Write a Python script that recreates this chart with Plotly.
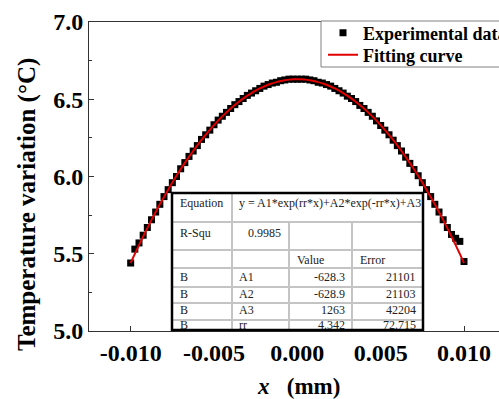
import numpy as np
import plotly.graph_objects as go

# ---------------- data ----------------
x_vals = np.linspace(-0.010, 0.010, 81)

fit_half = [6.630, 6.629, 6.627, 6.623, 6.618, 6.611, 6.603, 6.594, 6.582, 6.570,
            6.556, 6.540, 6.523, 6.504, 6.484, 6.463, 6.440, 6.415, 6.389, 6.362,
            6.333, 6.302, 6.270, 6.237, 6.202, 6.165, 6.127, 6.088, 6.047, 6.005,
            5.961, 5.915, 5.868, 5.820, 5.770, 5.719, 5.666, 5.612, 5.556, 5.499, 5.440]
fit_y = fit_half[:0:-1] + fit_half

exp_y = [5.44, 5.53, 5.57, 5.62, 5.67, 5.72, 5.77, 5.82, 5.87, 5.915,
         5.96, 6.00, 6.05, 6.09, 6.13, 6.165, 6.20, 6.24, 6.27, 6.30,
         6.335, 6.365, 6.39, 6.415, 6.44, 6.465, 6.485, 6.505, 6.525, 6.54,
         6.555, 6.57, 6.585, 6.595, 6.605, 6.61, 6.62, 6.625, 6.63, 6.63,
         6.63,
         6.63, 6.63, 6.625, 6.62, 6.61, 6.605, 6.595, 6.585, 6.57, 6.555,
         6.54, 6.52, 6.505, 6.485, 6.46, 6.44, 6.415, 6.39, 6.36, 6.33,
         6.30, 6.27, 6.235, 6.20, 6.165, 6.125, 6.085, 6.045, 6.005, 5.96,
         5.915, 5.87, 5.82, 5.77, 5.72, 5.67, 5.625, 5.60, 5.58, 5.45]

x_tickvals = [-0.010, -0.005, 0.000, 0.005, 0.010]
x_ticktext = ["-0.010", "-0.005", "0.000", "0.005", "0.010"]
y_tickvals = [5.0, 5.5, 6.0, 6.5, 7.0]
y_ticktext = ["5.0", "5.5", "6.0", "6.5", "7.0"]

series_names = ["Experimental data", "Fitting curve"]

equation_label = "Equation"
equation_text = "y = A1*exp(rr*x)+A2*exp(-rr*x)+A3"
rsq_label = "R-Squ"
rsq_value = "0.9985"
header_cols = ["Value", "Error"]
param_rows = [["B", "A1", "-628.3", "21101"],
              ["B", "A2", "-628.9", "21103"],
              ["B", "A3", "1263", "42204"],
              ["B", "rr", "4.342", "72.715"]]

# ---------------- layout helpers ----------------
W_FIG, H_FIG = 499, 399
L, R, T, B = 89, 499, 22, 331
def px(x):
    return (x - L) / (R - L)
def py(y):
    return (B - y) / (B - T)

SERIF = "Liberation Serif"

fig = go.Figure()
fig.add_trace(go.Scatter(x=x_vals, y=exp_y, mode="markers", name=series_names[0],
                         marker=dict(symbol="square", size=7, color="black"),
                         legend="legend"))
fig.add_trace(go.Scatter(x=x_vals, y=fit_y, mode="lines", name=series_names[1],
                         line=dict(color="#e00000", width=2, shape="spline"),
                         legend="legend2"))

# ---------------- table ----------------
tl, tr, tt, tb = 172, 423, 193, 330
cx = [172, 232, 289, 352, 423]
rows_y = [193, 222, 250, 268, 287, 303, 320, 330]
gray = "#c4c4c4"
shapes = []
# legend frame
shapes.append(dict(type="rect", xref="paper", yref="paper", x0=px(321), x1=px(530),
                   y0=py(67), y1=py(21), fillcolor="white",
                   line=dict(color="#808080", width=1), layer="above"))
shapes.append(dict(type="rect", xref="paper", yref="paper", x0=px(tl), x1=px(tr),
                   y0=py(tb), y1=py(tt), fillcolor="white", line=dict(width=0), layer="above"))
for yy in rows_y[1:-1]:
    shapes.append(dict(type="line", xref="paper", yref="paper", x0=px(tl), x1=px(tr),
                       y0=py(yy), y1=py(yy), line=dict(color=gray, width=2), layer="above"))
shapes.append(dict(type="line", xref="paper", yref="paper", x0=px(cx[1]), x1=px(cx[1]),
                   y0=py(tb), y1=py(tt), line=dict(color=gray, width=2), layer="above"))
for xx in cx[2:4]:
    shapes.append(dict(type="line", xref="paper", yref="paper", x0=px(xx), x1=px(xx),
                       y0=py(tb), y1=py(rows_y[1]), line=dict(color=gray, width=2), layer="above"))
shapes.append(dict(type="rect", xref="paper", yref="paper", x0=px(tl), x1=px(tr),
                   y0=py(tb), y1=py(tt), line=dict(color="black", width=2.5), layer="above"))

tfont = dict(family=SERIF, size=12, color="#222")
ann = []
def add_text(t, x, y, anchor="left"):
    ann.append(dict(text=t, x=px(x), y=py(y), xref="paper", yref="paper", showarrow=False,
                    xanchor=anchor, yanchor="middle", font=tfont))
add_text(equation_label, 178, 203)
add_text(equation_text, 237, 203)
add_text(rsq_label, 178, 233)
add_text(rsq_value, 283, 233, "right")
add_text(header_cols[0], 295, 260)
add_text(header_cols[1], 358, 260)
row_centers = [277, 294, 310, 325]
for r, yc in zip(param_rows, row_centers):
    add_text(r[0], 178, yc)
    add_text(r[1], 237, yc)
    add_text(r[2], 347, yc, "right")
    add_text(r[3], 418, yc, "right")

# axis titles
ann.append(dict(text="Temperature variation (°C)", x=px(27), y=py(205), xref="paper", yref="paper",
                showarrow=False, textangle=-90, xanchor="center", yanchor="middle",
                font=dict(family=SERIF, size=25, color="black", weight="bold")))
ann.append(dict(text="<i>x</i>   (mm)", x=px(298), y=py(386), xref="paper", yref="paper",
                showarrow=False, xanchor="center", yanchor="middle",
                font=dict(family=SERIF, size=23, color="black", weight="bold")))

tickfont = dict(family=SERIF, size=24, color="black", weight="bold")
legfont = dict(family=SERIF, size=18, color="black", weight="bold")
fig.update_layout(
    width=W_FIG, height=H_FIG,
    margin=dict(l=L, r=W_FIG - R, t=T, b=H_FIG - B, autoexpand=False),
    paper_bgcolor="white", plot_bgcolor="white",
    showlegend=True,
    legend=dict(x=px(323), y=py(33), xanchor="left", yanchor="middle",
                bgcolor="rgba(0,0,0,0)", borderwidth=0, font=legfont),
    legend2=dict(x=px(323), y=py(55), xanchor="left", yanchor="middle",
                 bgcolor="rgba(0,0,0,0)", borderwidth=0, font=legfont),
    xaxis=dict(range=[-0.0125, 0.0121], tickvals=x_tickvals, ticktext=x_ticktext,
               ticks="inside", ticklen=5, tickcolor="#333", showgrid=False, zeroline=False,
               showline=True, linecolor="#333", linewidth=1, mirror=True,
               tickfont=tickfont,
               minor=dict(dtick=0.0025, tick0=0, ticks="inside", ticklen=3, tickcolor="#333")),
    yaxis=dict(range=[5.0, 7.0], tickvals=y_tickvals, ticktext=y_ticktext,
               ticks="inside", ticklen=5, tickcolor="#333", showgrid=False, zeroline=False,
               showline=True, linecolor="#333", linewidth=1, mirror=False,
               tickfont=tickfont,
               minor=dict(dtick=0.25, tick0=5.0, ticks="inside", ticklen=3, tickcolor="#333")),
    shapes=shapes, annotations=ann,
)
fig.write_html("out.html")
